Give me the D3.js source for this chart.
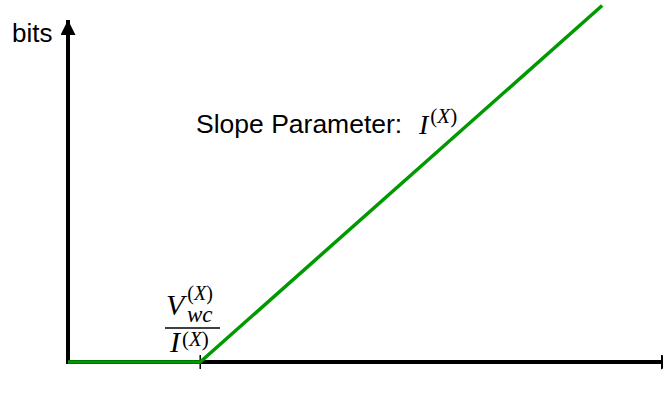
<!DOCTYPE html>
<html>
<head>
<meta charset="utf-8">
<script src="https://cdn.jsdelivr.net/npm/d3@7/dist/d3.min.js"></script>
<style>
  html, body { margin: 0; padding: 0; background: #fff; overflow: hidden; }
  svg { display: block; }
</style>
</head>
<body>
<svg id="chart" width="663" height="394"></svg>
<script>
// Piecewise-linear rate curve: zero until the threshold, then rising with the slope.
const knotX = [0, 1, 4.04];
const knotY = [0, 0, 2.71];
const thresholdX = 1;
const yLabel = "bits";
const slopeLabel = "Slope Parameter:";

const svg = d3.select("#chart");

const x = d3.scaleLinear().domain([0, 4.5]).range([68, 663]);
const y = d3.scaleLinear().domain([0, 2.6]).range([362, 20]);

const points = knotX.map((v, i) => ({ x: v, y: knotY[i] }));

// arrow heads
const defs = svg.append("defs");
defs.append("marker")
  .attr("id", "arrow")
  .attr("viewBox", "0 0 10 10")
  .attr("refX", 10).attr("refY", 5)
  .attr("markerWidth", 15).attr("markerHeight", 15)
  .attr("markerUnits", "userSpaceOnUse")
  .attr("orient", "auto")
  .append("path")
  .attr("d", "M0,0 L10,5 L0,10 Z")
  .attr("fill", "#000");

// axes
svg.append("line")
  .attr("x1", x(0)).attr("y1", y(0) + 2)
  .attr("x2", x(0)).attr("y2", y(2.6))
  .attr("stroke", "#000").attr("stroke-width", 4)
  .attr("marker-end", "url(#arrow)");

svg.append("line")
  .attr("x1", x(0) - 2).attr("y1", y(0))
  .attr("x2", x(4.5) + 13).attr("y2", y(0))
  .attr("stroke", "#000").attr("stroke-width", 4)
  .attr("marker-end", "url(#arrow)");

// threshold tick
svg.append("line")
  .attr("x1", x(thresholdX)).attr("x2", x(thresholdX))
  .attr("y1", y(0) - 7).attr("y2", y(0) + 7)
  .attr("stroke", "#000").attr("stroke-width", 1.5);

// rate curve
const line = d3.line().x(d => x(d.x)).y(d => y(d.y));
svg.append("path")
  .datum(points)
  .attr("d", line)
  .attr("fill", "none")
  .attr("stroke", "#009a00")
  .attr("stroke-width", 3.5);

const sansFont = "Liberation Sans, Arial, sans-serif";
const mathFont = "Liberation Serif, DejaVu Serif, serif";

// y label
svg.append("text")
  .attr("x", 12).attr("y", 42)
  .attr("font-family", sansFont)
  .attr("font-size", 26)
  .text(yLabel);

// slope label
svg.append("text")
  .attr("x", 196).attr("y", 133)
  .attr("font-family", sansFont)
  .attr("font-size", 26.5)
  .text(slopeLabel);

// italic symbol with a superscript "(X)" (upright parentheses), optional subscript
function mathSym(x0, y0, base, size, supSize, supDy, supDx, sub) {
  const t = svg.append("text")
    .attr("x", x0).attr("y", y0)
    .attr("font-family", mathFont).attr("font-size", size);
  t.append("tspan").attr("font-style", "italic").text(base);
  t.append("tspan").attr("font-size", supSize).attr("dx", supDx).attr("dy", supDy).text("(");
  t.append("tspan").attr("font-size", supSize).attr("font-style", "italic").text("X");
  t.append("tspan").attr("font-size", supSize).text(")");
  if (sub) {
    t.append("tspan")
      .attr("x", x0 + sub.dx).attr("y", y0 + sub.dy)
      .attr("font-size", sub.size).attr("font-style", "italic")
      .text(sub.text);
  }
  return t;
}

mathSym(419, 134, "I", 28, 21, -11, 2);

// threshold fraction V_wc^(X) / I^(X)
const fx = 166;
mathSym(fx, 315, "V", 30, 20, -15, 3, { text: "wc", dx: 21, dy: 7, size: 23 });

svg.append("line")
  .attr("x1", fx - 1).attr("x2", fx + 54)
  .attr("y1", 328).attr("y2", 328)
  .attr("stroke", "#000").attr("stroke-width", 1.5);

mathSym(fx + 4, 352, "I", 30, 21, -6, 2);
</script>
</body>
</html>
